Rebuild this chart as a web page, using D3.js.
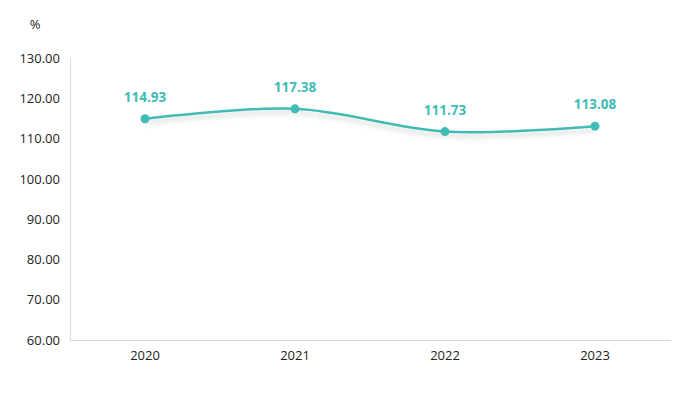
<!DOCTYPE html>
<html>
<head>
<meta charset="utf-8">
<script src="https://cdn.jsdelivr.net/npm/d3@7"></script>
<style>
  body { margin: 0; background: #fff; }
  svg { display: block; font-family: "Segoe UI", "Open Sans", "Noto Sans", sans-serif; }
</style>
</head>
<body>
<div id="chart"></div>
<script>
// data
const years = ["2020", "2021", "2022", "2023"];
const values = [114.93, 117.38, 111.73, 113.08];
const yTicks = [60, 70, 80, 90, 100, 110, 120, 130];

const width = 689, height = 394;
const margin = { top: 58, right: 19, bottom: 54, left: 70 };
const color = "#40bcb4";

const svg = d3.select("#chart").append("svg")
  .attr("width", width)
  .attr("height", height)
  .attr("viewBox", [0, 0, width, height]);

const x = d3.scaleBand()
  .domain(years)
  .range([margin.left, width - margin.right]);

const y = d3.scaleLinear()
  .domain([60, 130])
  .range([height - margin.bottom, margin.top]);

// shadow under the line
const defs = svg.append("defs");
const f = defs.append("filter").attr("id", "shadow")
  .attr("x", "-10%").attr("y", "-50%").attr("width", "120%").attr("height", "200%");
f.append("feDropShadow")
  .attr("dx", 0).attr("dy", 4).attr("stdDeviation", 2.5)
  .attr("flood-color", "#7a8a88").attr("flood-opacity", 0.35);

// y axis
const yAxis = svg.append("g")
  .attr("transform", `translate(${margin.left},0)`)
  .call(d3.axisLeft(y).tickValues(yTicks).tickFormat(d3.format(".2f")).tickSize(0).tickPadding(10));
yAxis.select(".domain").attr("stroke", "#d9d9d9");
yAxis.selectAll("text").attr("font-size", 13).attr("fill", "#222")
  .attr("font-family", "'Segoe UI', 'Open Sans', 'Noto Sans', sans-serif");

// x axis
const xAxis = svg.append("g")
  .attr("transform", `translate(0,${height - margin.bottom})`)
  .call(d3.axisBottom(x).tickSize(0).tickPadding(11));
xAxis.select(".domain").attr("stroke", "#d9d9d9");
xAxis.selectAll("text").attr("font-size", 13).attr("fill", "#222")
  .attr("font-family", "'Segoe UI', 'Open Sans', 'Noto Sans', sans-serif");

// unit label
svg.append("text")
  .attr("x", 35).attr("y", 29)
  .attr("text-anchor", "middle")
  .attr("font-size", 13).attr("fill", "#222")
  .text("%");

const cx = d => x(d) + x.bandwidth() / 2;

const line = d3.line()
  .x((d, i) => cx(years[i]))
  .y(d => y(d))
  .curve(d3.curveCatmullRom.alpha(0.5));

svg.append("path")
  .datum(values)
  .attr("fill", "none")
  .attr("stroke", color)
  .attr("stroke-width", 2.5)
  .attr("filter", "url(#shadow)")
  .attr("d", line);

svg.append("g")
  .selectAll("circle")
  .data(values)
  .join("circle")
  .attr("cx", (d, i) => cx(years[i]))
  .attr("cy", d => y(d))
  .attr("r", 4.5)
  .attr("fill", color);

svg.append("g")
  .selectAll("text")
  .data(values)
  .join("text")
  .attr("x", (d, i) => cx(years[i]))
  .attr("y", d => y(d) - 17)
  .attr("text-anchor", "middle")
  .attr("font-size", 13.5)
  .attr("font-weight", "bold")
  .attr("fill", color)
  .text(d => d3.format(".2f")(d));
</script>
</body>
</html>
